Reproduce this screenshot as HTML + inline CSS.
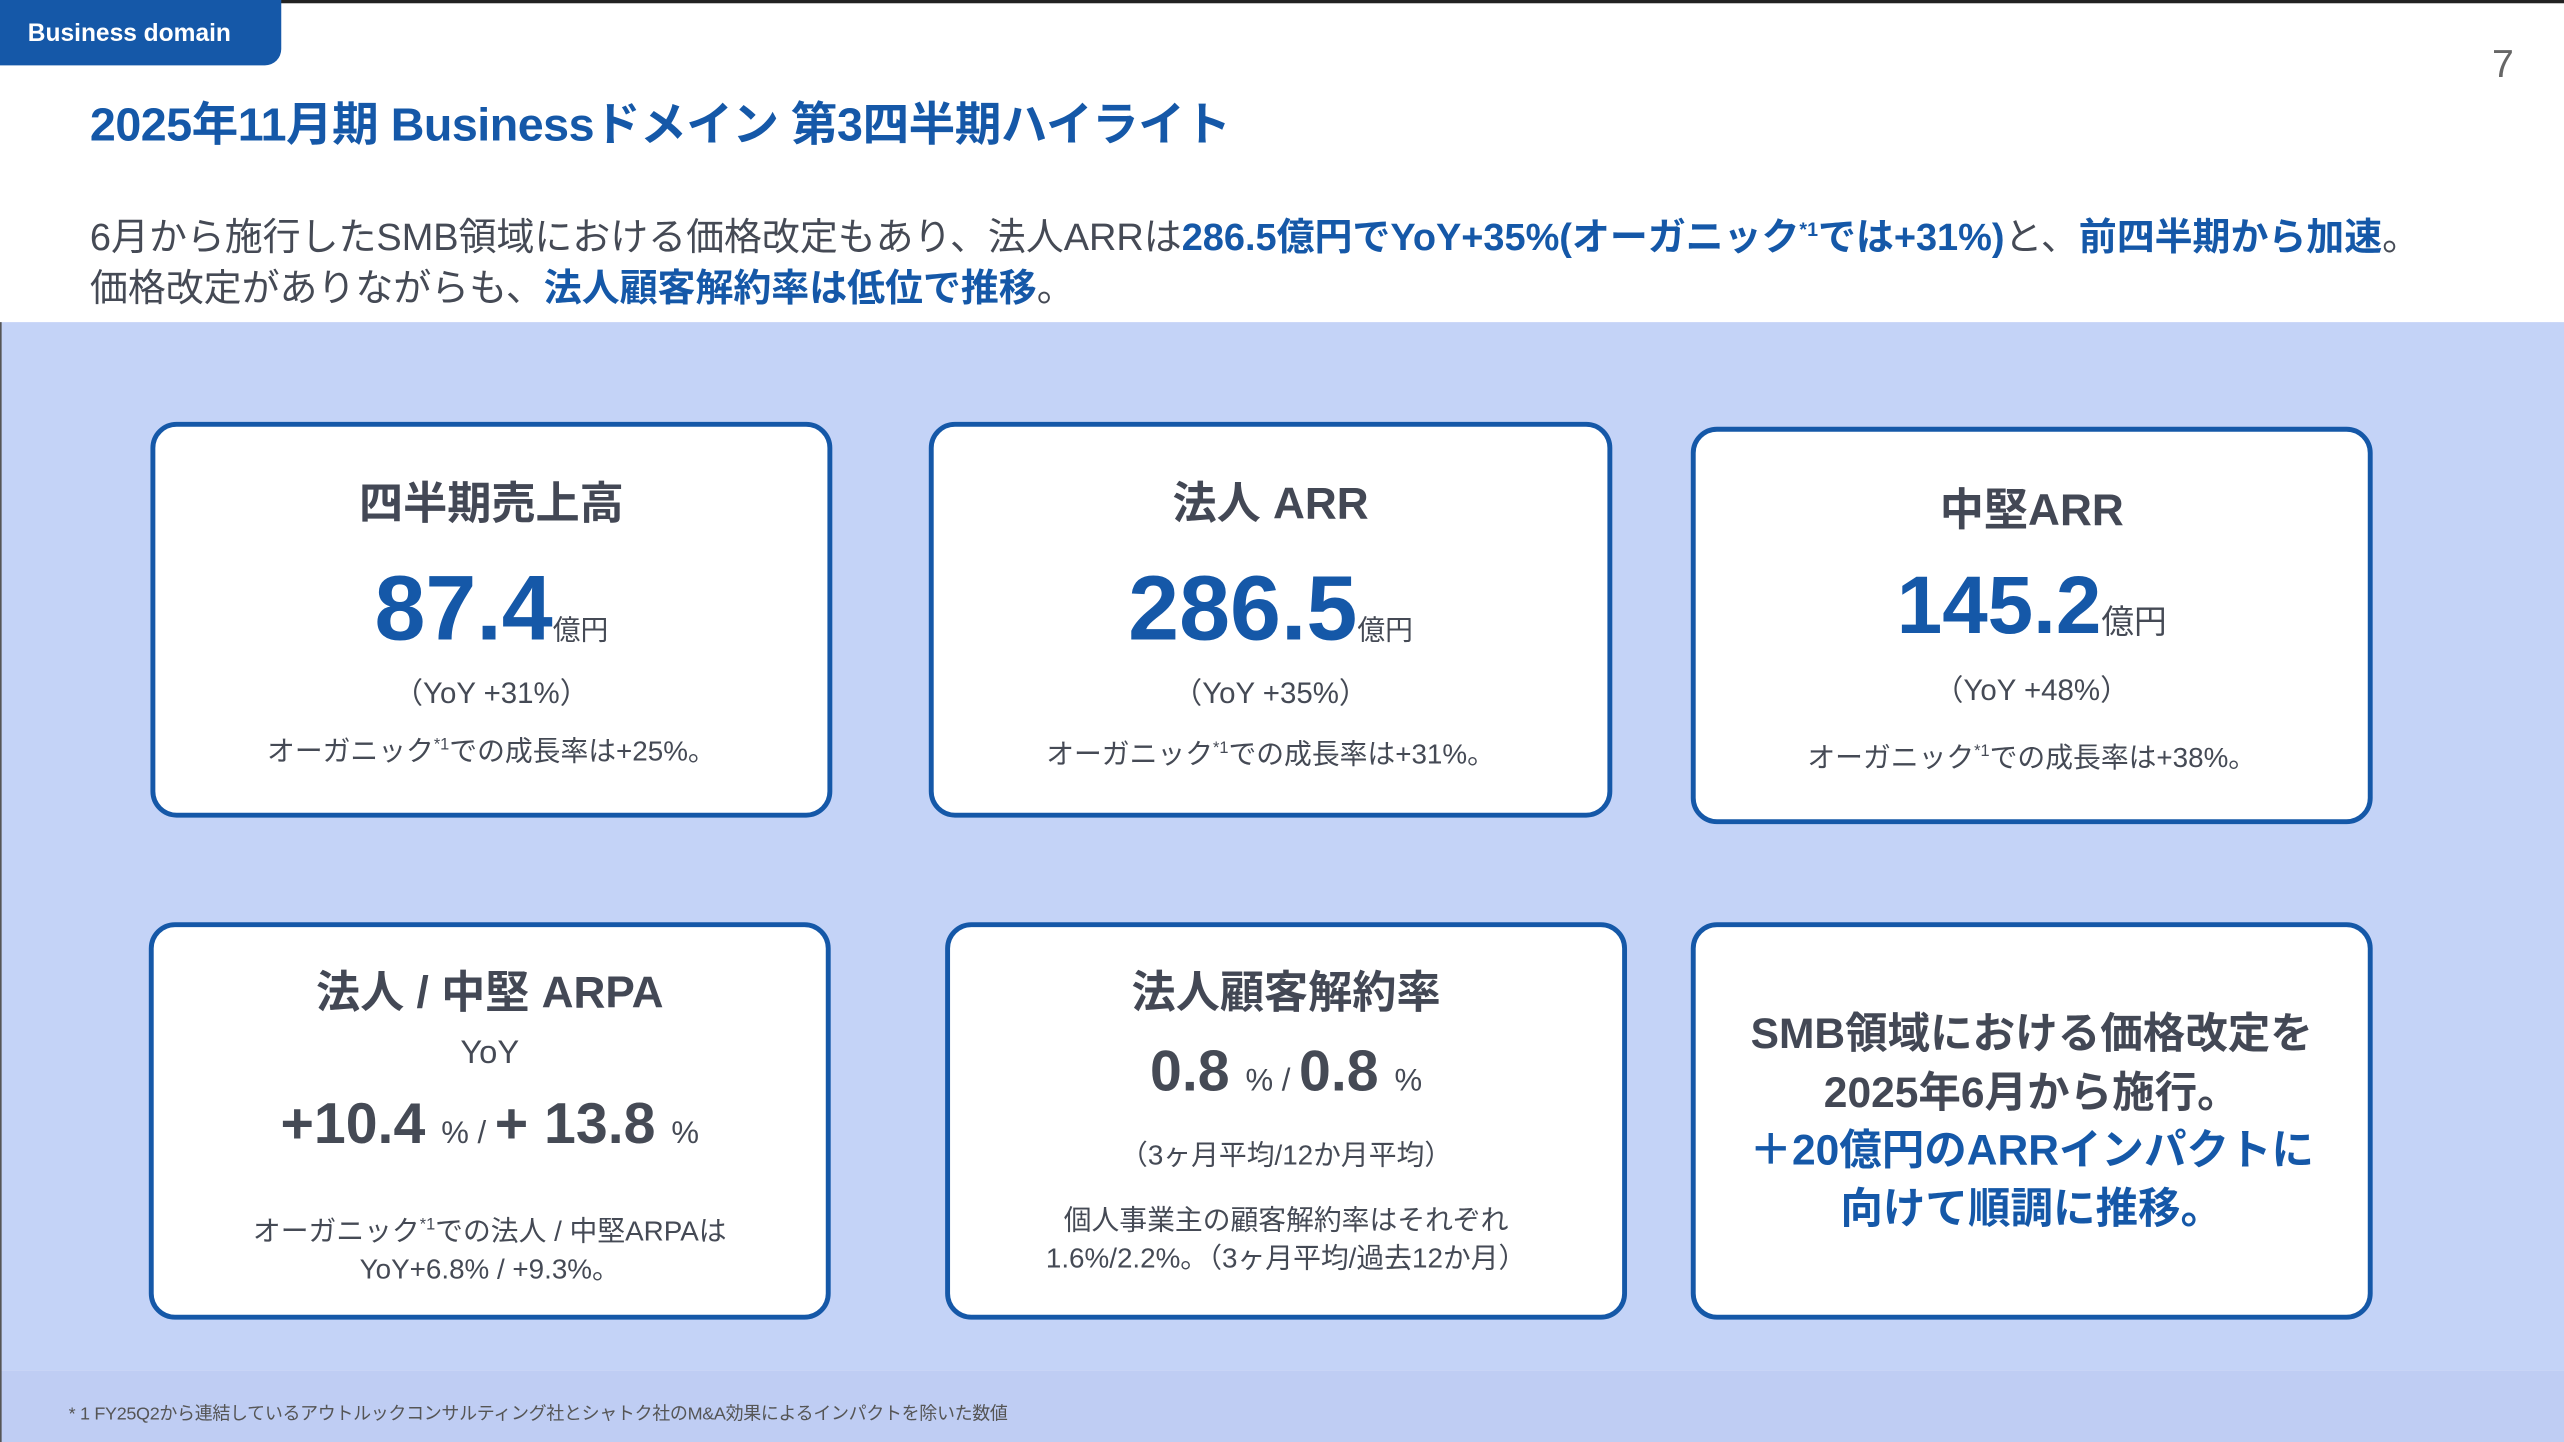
<!DOCTYPE html>
<html><head><meta charset="utf-8"><style>
html,body{margin:0;padding:0;width:2564px;height:1442px;overflow:hidden;background:#fff}
#w{position:absolute;left:0;top:0;width:1568px;height:882px;transform:scale(1.63520);transform-origin:0 0;font-family:"Liberation Sans","Noto Sans CJK JP",sans-serif;color:#454a55}
.a{position:absolute;white-space:nowrap}
.card{position:absolute;background:#fff;border:3px solid #1558a8;border-radius:16px;box-sizing:border-box}
.c{position:absolute;left:0;right:0;text-align:center;white-space:nowrap}
.b{color:#1558a8;font-weight:bold}
.h{font-size:27px;font-weight:bold;color:#434855}
</style></head><body>
<div id="w">
<div class="a" style="left:0;top:0;width:1568px;height:2px;background:#222"></div>
<div class="a" style="left:0;top:0;width:172px;height:40px;background:#1558a8;border-bottom-right-radius:10px"><span style="position:absolute;left:17px;top:12px;color:#fff;font-weight:bold;font-size:15px">Business domain</span></div>
<div class="a" style="left:1524px;top:26px;font-size:24px;color:#666">7</div>
<div class="a b" style="left:55px;top:54px;font-size:28.5px;letter-spacing:-0.3px">2025年11月期 Businessドメイン 第3四半期ハイライト</div>
<div class="a" style="left:55px;top:125px;font-size:23.2px;line-height:31px">6月から施行したSMB領域における価格改定もあり、法人ARRは<span class="b">286.5億円でYoY+35%(オーガニック<sup style="font-size:12px">*1</sup>では+31%)</span>と、<span class="b">前四半期から加速</span>。<br>価格改定がありながらも、<span class="b">法人顧客解約率は低位で推移</span>。</div>
<div class="a" style="left:0;top:197px;width:1568px;height:641px;background:#c4d3f7"></div>
<div class="a" style="left:0;top:838px;width:1568px;height:44px;background:#bfcdf3"></div>
<div class="a" style="left:0;top:197px;width:1px;height:685px;background:#555"></div>
<div class="a" style="left:42px;top:856px;font-size:11px;letter-spacing:-0.2px;color:#555">* 1 FY25Q2から連結しているアウトルックコンサルティング社とシャトク社のM&amp;A効果によるインパクトを除いた数値</div>

<div class="card" style="left:92px;top:258px;width:417px;height:242px">
<div class="c h" style="top:25px">四半期売上高</div>
<div class="c" style="top:78px"><span class="b" style="font-size:56px">87.4</span><span style="font-size:17px">億円</span></div>
<div class="c" style="top:149px;font-size:18px">（YoY +31%）</div>
<div class="c" style="top:184px;font-size:17px">オーガニック<sup style="font-size:10px">*1</sup>での成長率は+25%。</div>
</div>
<div class="card" style="left:568px;top:258px;width:418px;height:242px">
<div class="c h" style="top:25px">法人 ARR</div>
<div class="c" style="top:78px"><span class="b" style="font-size:56px">286.5</span><span style="font-size:17px">億円</span></div>
<div class="c" style="top:149px;font-size:18px">（YoY +35%）</div>
<div class="c" style="top:186px;font-size:17px">オーガニック<sup style="font-size:10px">*1</sup>での成長率は+31%。</div>
</div>
<div class="card" style="left:1034px;top:261px;width:417px;height:243px">
<div class="c h" style="top:26px">中堅ARR</div>
<div class="c" style="top:77px"><span class="b" style="font-size:50px">145.2</span><span style="font-size:20px">億円</span></div>
<div class="c" style="top:144px;font-size:18px">（YoY +48%）</div>
<div class="c" style="top:185px;font-size:17px">オーガニック<sup style="font-size:10px">*1</sup>での成長率は+38%。</div>
</div>
<div class="card" style="left:91px;top:564px;width:417px;height:243px">
<div class="c h" style="top:18px">法人 / 中堅 ARPA</div>
<div class="c" style="top:66px;font-size:20px">YoY</div>
<div class="c" style="top:101px;font-weight:bold;font-size:35px">+10.4 <span style="font-size:19px;font-weight:normal">% / </span>+ 13.8 <span style="font-size:19px;font-weight:normal">%</span></div>
<div class="c" style="top:171px;font-size:17px;line-height:23px">オーガニック<sup style="font-size:10px">*1</sup>での法人 / 中堅ARPAは<br>YoY+6.8% / +9.3%。</div>
</div>
<div class="card" style="left:578px;top:564px;width:417px;height:243px">
<div class="c h" style="top:18px">法人顧客解約率</div>
<div class="c" style="top:69px;font-weight:bold;font-size:35px">0.8 <span style="font-size:19px;font-weight:normal">% / </span> 0.8 <span style="font-size:19px;font-weight:normal">%</span></div>
<div class="c" style="top:125px;font-size:17px">（3ヶ月平均/12か月平均）</div>
<div class="c" style="top:168px;font-size:17px;line-height:23px">個人事業主の顧客解約率はそれぞれ<br>1.6%/2.2%。（3ヶ月平均/過去12か月）</div>
</div>
<div class="card" style="left:1034px;top:564px;width:417px;height:243px">
<div class="c" style="top:48px;font-size:26px;font-weight:bold;line-height:35.5px;color:#434855">SMB領域における価格改定を<br>2025年6月から施行。<br><span style="color:#1558a8">＋20億円のARRインパクトに<br>向けて順調に推移。</span></div>
</div>
</div>
</body></html>
